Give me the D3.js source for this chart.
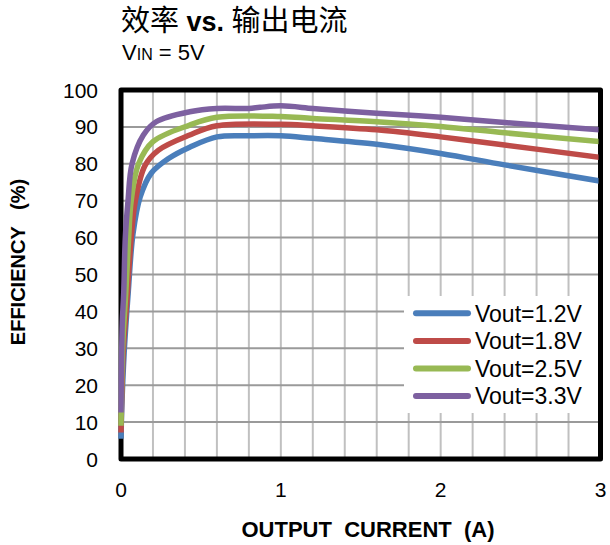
<!DOCTYPE html>
<html>
<head>
<meta charset="utf-8">
<script src="https://cdn.jsdelivr.net/npm/d3@7"></script>
<style>
  body { margin: 0; background: #fff; }
  svg text { font-family: "Liberation Sans", Arial, sans-serif; fill: #000; }
</style>
</head>
<body>
<svg id="chart" width="610" height="545"></svg>
<script>
// output current (A) / efficiency (%)
const current12 = [0, 0.005, 0.02, 0.045, 0.075, 0.12, 0.19, 0.3, 0.43, 0.6, 0.8, 1.0, 1.2, 1.6, 2.0, 2.4, 3.0];
const eff12     = [5.5, 14, 29, 45, 61, 71, 77.5, 81.5, 84.5, 87.3, 87.6, 87.6, 86.9, 85.3, 82.8, 79.7, 75.3];
const current18 = [0, 0.005, 0.015, 0.037, 0.064, 0.09, 0.15, 0.235, 0.43, 0.6, 1.0, 1.2, 1.6, 2.0, 2.4, 3.0];
const eff18     = [7.2, 17, 30, 43, 60, 70, 79.5, 83.7, 87.8, 90.3, 90.7, 90.3, 89.2, 87.3, 85.1, 81.7];
const current25 = [0, 0.004, 0.012, 0.03, 0.048, 0.064, 0.11, 0.2, 0.43, 0.6, 1.0, 1.2, 1.6, 2.0, 2.4, 3.0];
const eff25     = [9, 20, 32, 45, 60, 70, 80, 86, 90.5, 92.6, 92.8, 92.3, 91.4, 90.1, 88.4, 86];
const current33 = [0, 0.003, 0.008, 0.017, 0.027, 0.044, 0.069, 0.14, 0.22, 0.43, 0.6, 0.8, 0.87, 1.0, 1.2, 1.4, 1.6, 2.0, 2.4, 3.0];
const eff33     = [12.6, 25, 37, 45, 60, 70, 80, 87.8, 91.4, 94.1, 95, 95, 95.3, 95.7, 95.0, 94.3, 93.7, 92.6, 91.2, 89.2];

const seriesNames = ["Vout=1.2V", "Vout=1.8V", "Vout=2.5V", "Vout=3.3V"];
const seriesColors = ["#4a7ebb", "#be4b48", "#98b954", "#7d60a0"];
const xTicks = [0, 1, 2, 3];
const yTicks = [0, 10, 20, 30, 40, 50, 60, 70, 80, 90, 100];

let series = [
    { name: seriesNames[0], color: seriesColors[0], xs: current12, ys: eff12 },
    { name: seriesNames[1], color: seriesColors[1], xs: current18, ys: eff18 },
    { name: seriesNames[2], color: seriesColors[2], xs: current25, ys: eff25 },
    { name: seriesNames[3], color: seriesColors[3], xs: current33, ys: eff33 }
];

let svg = d3.select("#chart");

let x = d3.scaleLinear().domain([0, 3]).range([121, 600.5]);
let y = d3.scaleLinear().domain([0, 100]).range([459, 90]);

// title
let title = svg.append("text")
    .attr("x", 121)
    .attr("y", 31);
title.append("tspan")
    .style("font-family", "'Noto Sans CJK SC'")
    .style("font-size", "29px")
    .text("效率");
title.append("tspan")
    .style("font-size", "27px")
    .style("font-weight", "bold")
    .text(" vs. ");
title.append("tspan")
    .style("font-family", "'Noto Sans CJK SC'")
    .style("font-size", "29px")
    .text("输出电流");

let sub = svg.append("text")
    .attr("x", 122)
    .attr("y", 60)
    .style("font-size", "22px");
sub.append("tspan").text("V");
sub.append("tspan").style("font-size", "16px").text("IN");
sub.append("tspan").text(" = 5V");

// grid
let grid = svg.append("g");
grid.selectAll(".vgrid")
    .data(d3.range(1, 15).map(i => i * 0.2))
    .enter().append("line")
    .attr("x1", d => x(d)).attr("x2", d => x(d))
    .attr("y1", y(100)).attr("y2", y(0))
    .attr("stroke", "#c0c0c0")
    .attr("stroke-width", 2);
grid.selectAll(".hgrid")
    .data(yTicks.slice(1, -1))
    .enter().append("line")
    .attr("x1", x(0)).attr("x2", x(3))
    .attr("y1", d => y(d)).attr("y2", d => y(d))
    .attr("stroke", "#9a9a9a")
    .attr("stroke-width", 2);

// frame
svg.append("rect")
    .attr("x", x(0)).attr("y", y(100))
    .attr("width", x(3) - x(0)).attr("height", y(0) - y(100))
    .attr("fill", "none")
    .attr("stroke", "#000")
    .attr("stroke-width", 5)
    .attr("stroke-linejoin", "round");

// axis labels
svg.append("g").selectAll("text")
    .data(yTicks)
    .enter().append("text")
    .attr("x", 98)
    .attr("y", d => y(d))
    .attr("dy", "0.36em")
    .attr("text-anchor", "end")
    .style("font-size", "21px")
    .text(d => d);

svg.append("g").selectAll("text")
    .data(xTicks)
    .enter().append("text")
    .attr("x", d => x(d))
    .attr("y", 497)
    .attr("text-anchor", "middle")
    .style("font-size", "21px")
    .text(d => d);

svg.append("text")
    .attr("x", 368)
    .attr("y", 537)
    .attr("text-anchor", "middle")
    .style("font-size", "22px")
    .style("font-weight", "bold")
    .style("white-space", "pre")
    .text("OUTPUT  CURRENT  (A)");

svg.append("text")
    .attr("transform", "translate(25,262) rotate(-90)")
    .attr("text-anchor", "middle")
    .style("font-size", "20px")
    .style("font-weight", "bold")
    .style("white-space", "pre")
    .text("EFFICIENCY   (%)");

// curves
svg.append("clipPath").attr("id", "plotClip")
    .append("rect")
    .attr("x", 0).attr("y", 0)
    .attr("width", x(3) - 2).attr("height", 545);

let line = d3.line()
    .x(d => x(d[0]))
    .y(d => y(d[1]))
    .curve(d3.curveCatmullRom.alpha(0.5));

svg.append("g")
    .attr("clip-path", "url(#plotClip)")
    .selectAll("path")
    .data(series)
    .enter().append("path")
    .attr("d", d => line(d.xs.map((v, i) => [v, d.ys[i]])))
    .attr("fill", "none")
    .attr("stroke", d => d.color)
    .attr("stroke-width", 5.5)
    .attr("stroke-linejoin", "round");

// legend
let legend = svg.append("g");
legend.append("rect")
    .attr("x", 404).attr("y", 296)
    .attr("width", x(3) - 2.5 - 404).attr("height", 117)
    .attr("fill", "#fff");

let item = legend.selectAll(".item")
    .data(series)
    .enter().append("g")
    .attr("transform", (d, i) => "translate(0," + (313.3 + i * 27.6) + ")");
item.append("line")
    .attr("x1", 416).attr("x2", 468)
    .attr("stroke", d => d.color)
    .attr("stroke-width", 6)
    .attr("stroke-linecap", "round");
item.append("text")
    .attr("x", 475)
    .attr("dy", "0.36em")
    .style("font-size", "23px")
    .text(d => d.name);
</script>
</body>
</html>
